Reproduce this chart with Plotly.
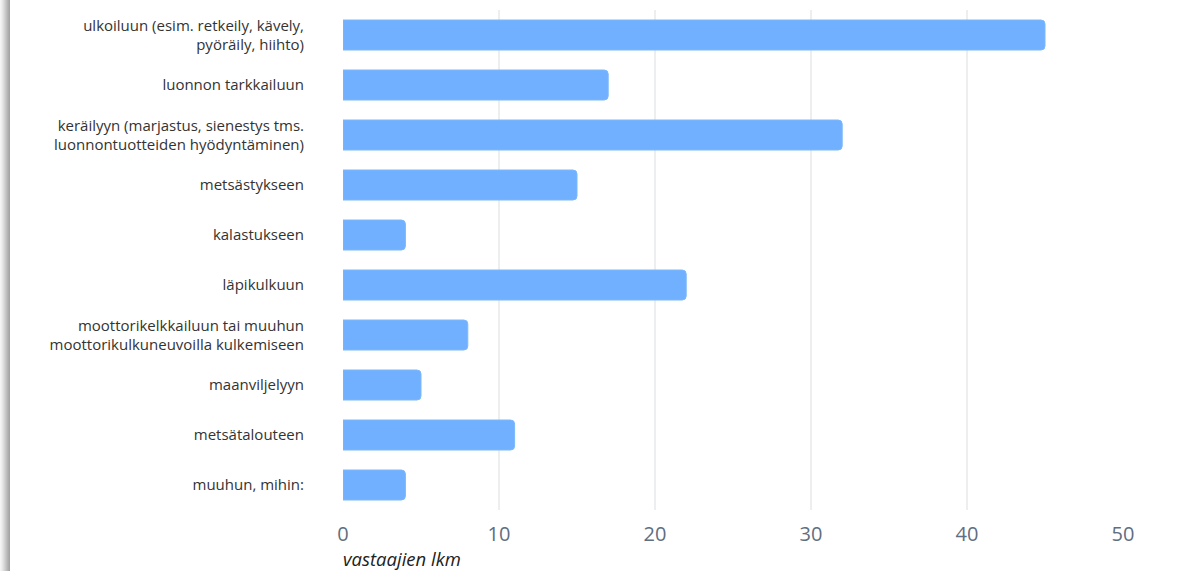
import plotly.graph_objects as go

categories = [
    "ulkoiluun (esim. retkeily, kävely,<br>pyöräily, hiihto)",
    "luonnon tarkkailuun",
    "keräilyyn (marjastus, sienestys tms.<br>luonnontuotteiden hyödyntäminen)",
    "metsästykseen",
    "kalastukseen",
    "läpikulkuun",
    "moottorikelkkailuun tai muuhun<br>moottorikulkuneuvoilla kulkemiseen",
    "maanviljelyyn",
    "metsätalouteen",
    "muuhun, mihin:",
]
values = [45, 17, 32, 15, 4, 22, 8, 5, 11, 4]
tick_vals = [0, 10, 20, 30, 40, 50]
axis_title = "vastaajien lkm"

W, H = 1203, 571
ML, MR, MT, MB = 343, 80, 10, 61
pw = W - ML - MR
ph = H - MT - MB

fig = go.Figure(go.Bar(
    x=values, y=categories, orientation="h",
    marker=dict(color="#70b0fe", line=dict(width=1, color="#7cb8fe"), cornerradius=4),
    width=0.6,
))

shapes = []
# left shadow gradient
grays = ["#f4f4f4", "#eeeeee", "#e6e6e6", "#dddddd", "#d3d3d3", "#c9c9c9", "#bfbfbf", "#b5b5b5", "#acacac", "#a4a4a4"]
for i, g in enumerate(grays):
    shapes.append(dict(type="rect", xref="paper", yref="paper",
                       x0=(i - ML) / pw, x1=(i + 1 - ML) / pw,
                       y0=-MB / ph, y1=(ph + MT) / ph,
                       fillcolor=g, line=dict(width=0), layer="above"))

fig.update_layout(
    width=W, height=H,
    margin=dict(l=ML, r=MR, t=MT, b=MB),
    paper_bgcolor="white", plot_bgcolor="white",
    showlegend=False,
    bargap=0.4,
    font=dict(family="Open Sans", color="#333333"),
    shapes=shapes,
    xaxis=dict(range=[0, 50], tickvals=tick_vals, showgrid=True,
               gridcolor="#eceef0", gridwidth=2, zeroline=False,
               showline=False, ticks="",
               tickfont=dict(size=20, color="#5f6e80", family="Open Sans"),
               ticklabelstandoff=10, fixedrange=True),
    yaxis=dict(autorange="reversed", showgrid=False, zeroline=False,
               showline=False, ticks="",
               tickfont=dict(size=15, color="#333333", family="Open Sans"),
               ticklabelstandoff=38),
    annotations=[dict(text="<i>" + axis_title + "</i>", xref="paper", yref="paper",
                      x=-2 / pw, y=-(558 - MT - ph) / ph, xanchor="left", yanchor="middle",
                      showarrow=False, font=dict(size=18.5, color="#222222", family="Open Sans"))],
)

fig.write_html("out.html", config={"displayModeBar": False},
               post_script="document.body.style.margin='0';document.body.style.padding='0';")
